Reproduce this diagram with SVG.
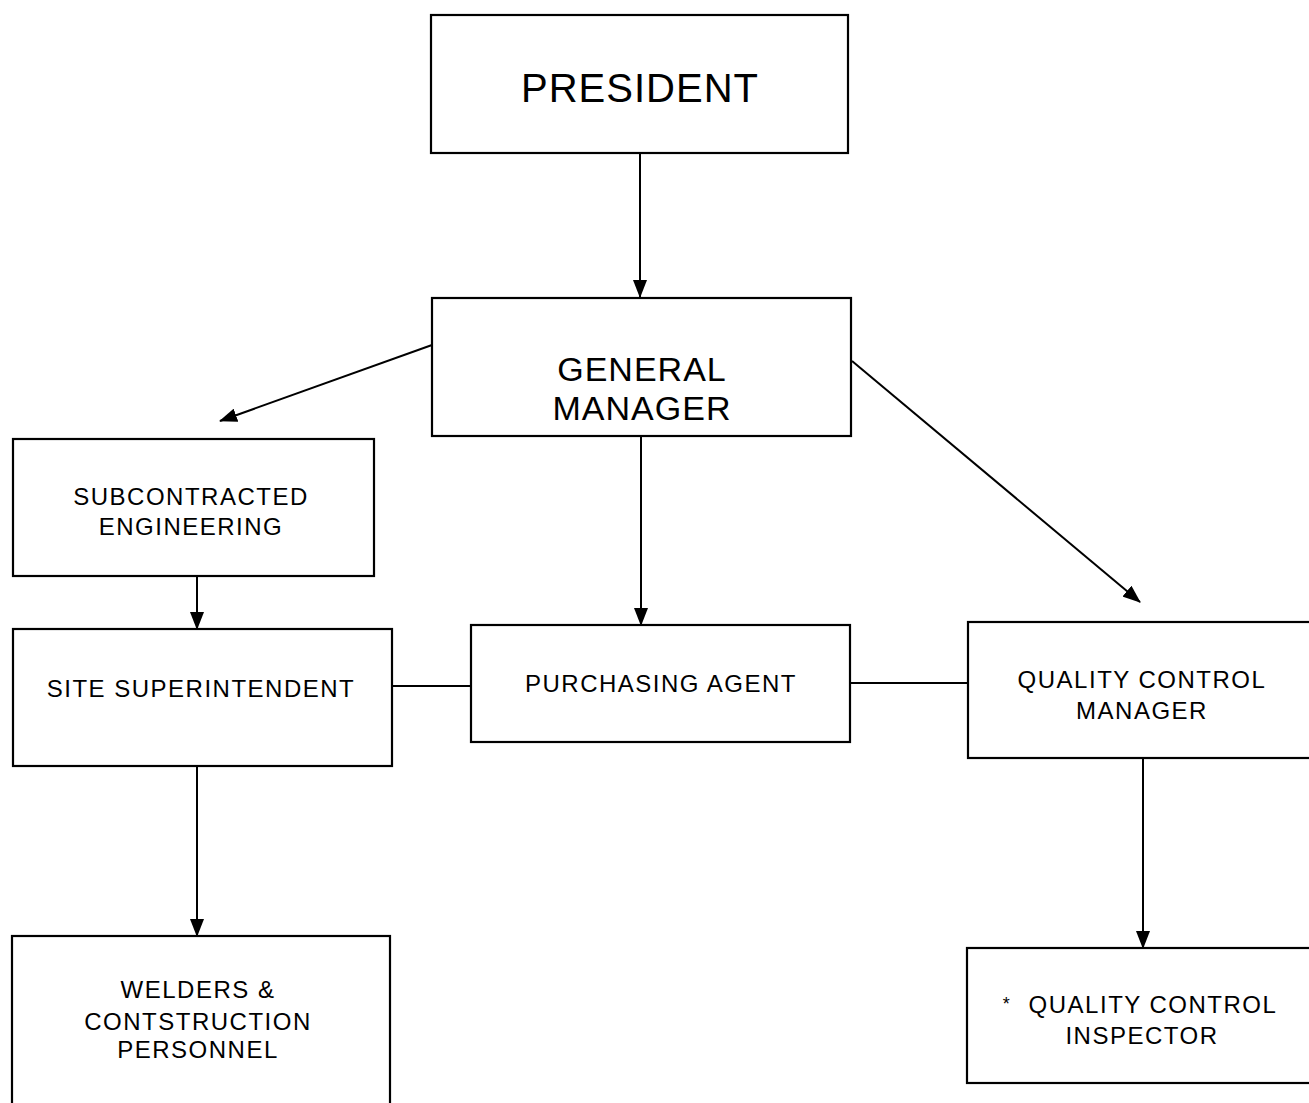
<svg xmlns="http://www.w3.org/2000/svg" width="1309" height="1103" viewBox="0 0 1309 1103">
<style>
.box{fill:#fff;stroke:#000;stroke-width:2.2}
.c{stroke:#000;stroke-width:2;fill:none}
.t{font-family:"Liberation Sans",Arial,sans-serif;fill:#000;text-anchor:middle;font-size:24px;letter-spacing:1.5px}
.big{font-size:40px;letter-spacing:1px}
.gm{font-size:34px;letter-spacing:1px}
</style>
<defs>
<marker id="ah" markerUnits="userSpaceOnUse" markerWidth="18" markerHeight="14" refX="17" refY="7" orient="auto">
<path d="M0,0 L18,7 L0,14 z" fill="#000"/>
</marker>
</defs>
<rect width="1309" height="1103" fill="#fff"/>
<g id="connectors">
<line class="c" x1="640" y1="153" x2="640" y2="297" marker-end="url(#ah)"/>
<line class="c" x1="432" y1="345" x2="220" y2="421" marker-end="url(#ah)"/>
<line class="c" x1="852" y1="361" x2="1140" y2="602" marker-end="url(#ah)"/>
<line class="c" x1="641" y1="436" x2="641" y2="625" marker-end="url(#ah)"/>
<line class="c" x1="197" y1="576" x2="197" y2="629" marker-end="url(#ah)"/>
<line class="c" x1="392" y1="686" x2="471" y2="686"/>
<line class="c" x1="850" y1="683" x2="968" y2="683"/>
<line class="c" x1="197" y1="766" x2="197" y2="936" marker-end="url(#ah)"/>
<line class="c" x1="1143" y1="758" x2="1143" y2="948" marker-end="url(#ah)"/>
</g>
<g id="president">
<rect class="box" x="431" y="15" width="417" height="138"/>
<text class="t big" x="640" y="102">PRESIDENT</text>
</g>
<g id="general-manager">
<rect class="box" x="432" y="298" width="419" height="138"/>
<text class="t gm" x="642" y="381">GENERAL</text>
<text class="t gm" x="642" y="420">MANAGER</text>
</g>
<g id="subcontracted-engineering">
<rect class="box" x="13" y="439" width="361" height="137"/>
<text class="t" x="191" y="505">SUBCONTRACTED</text>
<text class="t" x="191" y="535">ENGINEERING</text>
</g>
<g id="site-superintendent">
<rect class="box" x="13" y="629" width="379" height="137"/>
<text class="t" x="201" y="697">SITE SUPERINTENDENT</text>
</g>
<g id="purchasing-agent">
<rect class="box" x="471" y="625" width="379" height="117"/>
<text class="t" x="661" y="692">PURCHASING AGENT</text>
</g>
<g id="quality-control-manager">
<rect class="box" x="968" y="622" width="345" height="136"/>
<text class="t" x="1142" y="688">QUALITY CONTROL</text>
<text class="t" x="1142" y="719">MANAGER</text>
</g>
<g id="welders">
<rect class="box" x="12" y="936" width="378" height="180"/>
<text class="t" x="198" y="998">WELDERS &amp;</text>
<text class="t" x="198" y="1030">CONTSTRUCTION</text>
<text class="t" x="198" y="1058">PERSONNEL</text>
</g>
<g id="quality-control-inspector">
<rect class="box" x="967" y="948" width="346" height="135"/>
<text class="t" x="1007" y="1010" style="font-size:18px">*</text>
<text class="t" x="1153" y="1013">QUALITY CONTROL</text>
<text class="t" x="1142" y="1044">INSPECTOR</text>
</g>
</svg>
